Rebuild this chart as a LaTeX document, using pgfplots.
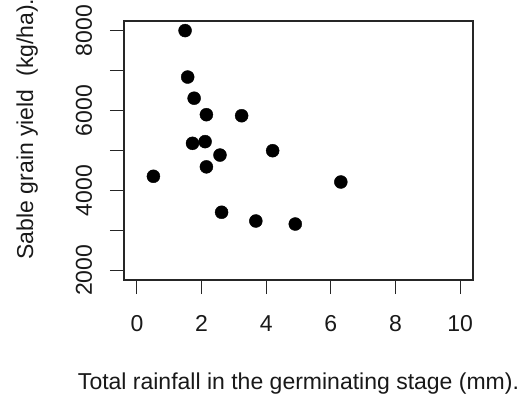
\documentclass[border=0pt]{standalone}
\usepackage{fontspec}
\setmainfont{Liberation Sans}
\usepackage{pgfplots}
\pgfplotsset{compat=1.18}
\begin{document}
\begin{tikzpicture}
\useasboundingbox (0,0) rectangle (523bp,398bp);
\begin{axis}[
  at={(124bp,118bp)}, anchor=south west,
  scale only axis, width=349bp, height=259bp,
  xmin=-0.4, xmax=10.4, ymin=1760, ymax=8240,
  axis line style={line width=1.1bp, black!85},
  every tick/.style={line width=1.1bp, black!85},
  tick align=outside, major tick length=14bp,
  xtick={0,2,4,6,8,10}, xticklabels={0,2,4,6,8,10},
  ytick={2000,3000,4000,5000,6000,7000,8000},
  yticklabels={2000,{},4000,{},6000,{},8000},
  xtick pos=bottom, ytick pos=left,
  tick label style={font=\fontsize{23bp}{28bp}\selectfont, text=black!90},
  xticklabel style={anchor=north, inner sep=0pt},
  yticklabel style={rotate=90, anchor=base, inner sep=0pt},
  xticklabel shift=21bp, yticklabel shift=18bp,
  label style={font=\fontsize{23bp}{28bp}\selectfont, text=black!90},
  xlabel={Total rainfall in the germinating stage (mm).},
  ylabel={Sable grain yield\ \ (kg/ha).},
  xlabel style={at={(axis description cs:0.5,-0.4247)}, anchor=base, inner sep=0pt},
  ylabel style={at={(axis description cs:-0.2607,0.583)}, anchor=base, inner sep=0pt},
  clip=false,
]
\addplot[only marks, mark=*, mark size=6.5bp, mark options={fill=black, draw=black}] coordinates {
(1.49,8000) (1.57,6838) (1.77,6308) (2.15,5896) (3.24,5870)
(1.72,5180) (2.11,5222) (2.57,4886) (4.20,4995) (2.15,4591)
(0.51,4355) (6.31,4212) (2.62,3455) (3.68,3236) (4.90,3160)
};
\end{axis}
\end{tikzpicture}
\end{document}
